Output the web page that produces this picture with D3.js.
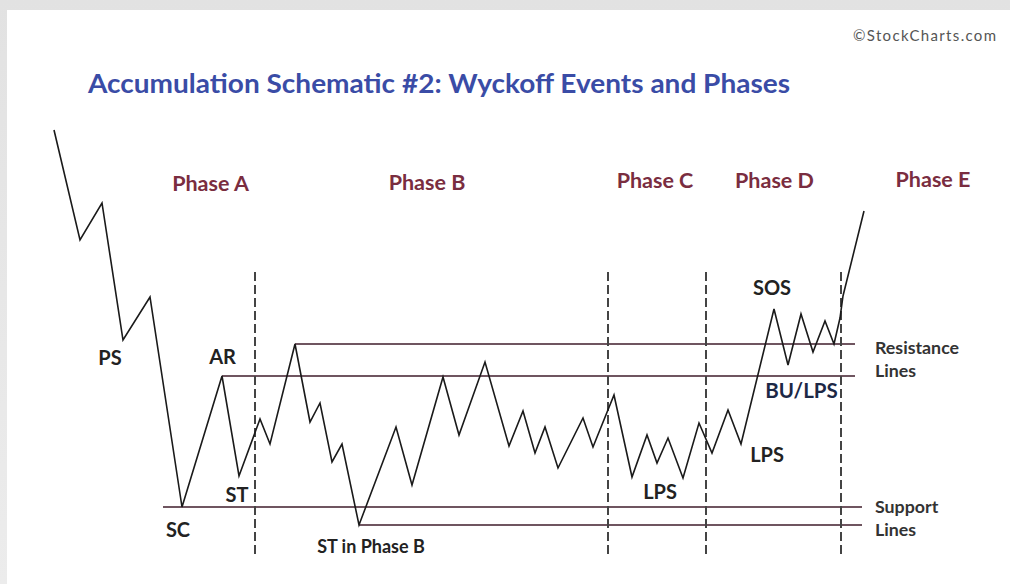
<!DOCTYPE html>
<html>
<head>
<meta charset="utf-8">
<script src="https://cdn.jsdelivr.net/npm/d3@7"></script>
<style>
  body { margin: 0; background: #e8e8e8; }
  svg { display: block; }
</style>
</head>
<body>
<div id="chart"></div>
<script>
// Price path of the schematic: time (bar) and price
var pathTime  = [5.4, 8.0, 10.2, 12.3, 15.0, 18.2, 22.2, 23.9, 26.0, 27.0, 29.5, 31.0, 32.0, 33.2, 34.2, 35.9,
                 39.6, 41.2, 44.3, 45.9, 48.5, 50.9, 52.3, 53.5, 54.5, 55.8, 58.3, 59.3, 61.4, 63.2, 64.7, 65.7,
                 66.8, 68.3, 69.9, 71.2, 72.8, 74.1, 77.4, 78.8, 80.1, 81.3, 82.5, 83.4, 84.0, 84.3, 86.4];
var pathPrice = [86, 64, 71.4, 44, 52.6, 10.6, 36.8, 16.8, 28.2, 23.2, 43.2, 27.6, 31.4, 19.6, 23.2, 7,
                 26.6, 15, 36.6, 25, 39.6, 22.8, 29.8, 21.4, 26.6, 18.4, 28.4, 22.6, 33, 16.6, 25, 19.4,
                 24.4, 16.4, 27.4, 21.4, 30, 23.2, 50.2, 39, 49.2, 41.6, 47.8, 43.2, 48.4, 52.8, 69.8];

// Resistance and support levels
var levelNames = ["resistance high", "resistance low", "support high", "support low"];
var levelPrice = [43.2, 36.8, 10.6, 7];
var levelStart = [29.5, 22.2, 16.3, 35.9];
var levelEnd   = [85.5, 85.5, 86.2, 86.2];

// Phase boundaries (dashed)
var phaseBounds = [25.5, 60.8, 70.6, 84.1];
var phaseNames  = ["Phase A", "Phase B", "Phase C", "Phase D", "Phase E"];
var phaseLabelX = [21.05, 42.7, 65.5, 77.45, 93.3];
var phaseLabelP = [73.8, 74, 74.4, 74.4, 74.6];

// Event labels
var eventNames = ["PS", "AR", "ST", "SC", "ST in Phase B", "LPS", "LPS", "SOS", "BU/LPS"];
var eventX     = [11.0, 22.25, 23.7, 17.8, 37.1, 66.0, 76.7, 77.2, 80.15];
var eventP     = [39, 39.2, 11.6, 4.6, 1.4, 12.2, 19.6, 53, 32.4];

var sideLabels = [["Resistance", "Lines"], ["Support", "Lines"]];
var sideLabelP = [41.2, 9.4];

var width = 1010, height = 584;

var x = d3.scaleLinear().domain([0, 100]).range([0, 1000]);
var y = d3.scaleLinear().domain([0, 100]).range([560, 60]);

var svg = d3.select("#chart").append("svg")
  .attr("width", width)
  .attr("height", height);

// grey frame round the white card
var defs = svg.append("defs");
var grad = defs.append("linearGradient").attr("id", "topfade").attr("x1", 0).attr("y1", 0).attr("x2", 0).attr("y2", 1);
grad.append("stop").attr("offset", "0%").attr("stop-color", "#e2e2e2");
grad.append("stop").attr("offset", "100%").attr("stop-color", "#ececec");
svg.append("rect").attr("width", width).attr("height", height).attr("fill", "url(#topfade)");
svg.append("rect").attr("x", 7).attr("y", 10).attr("width", width - 7).attr("height", height - 10).attr("fill", "#fff");

// title and credit
svg.append("text")
  .attr("x", 88).attr("y", 93)
  .attr("font-family", "Lato, 'Open Sans', sans-serif")
  .attr("font-weight", 700)
  .attr("font-size", 26)
  .attr("fill", "#3a4ca6")
  .attr("textLength", 702)
  .attr("lengthAdjust", "spacingAndGlyphs")
  .text("Accumulation Schematic #2: Wyckoff Events and Phases");

svg.append("text")
  .attr("x", 853).attr("y", 41)
  .attr("font-family", "Lato, 'Open Sans', sans-serif")
  .attr("font-size", 15)
  .attr("fill", "#555")
  .attr("textLength", 143)
  .text("\u00A9StockCharts.com");

// support / resistance lines
svg.append("g").selectAll("line")
  .data(levelNames)
  .enter().append("line")
    .attr("x1", (d, i) => x(levelStart[i]))
    .attr("x2", (d, i) => x(levelEnd[i]))
    .attr("y1", (d, i) => y(levelPrice[i]))
    .attr("y2", (d, i) => y(levelPrice[i]))
    .style("stroke", "#6f5560")
    .style("stroke-width", 1.8);

// phase boundaries
svg.append("g").selectAll("line")
  .data(phaseBounds)
  .enter().append("line")
    .attr("x1", d => x(d)).attr("x2", d => x(d))
    .attr("y1", y(57.6)).attr("y2", y(0.6))
    .style("stroke", "#444")
    .style("stroke-width", 2)
    .style("stroke-dasharray", "9,4");

// price path
var line = d3.line()
  .x((d, i) => x(pathTime[i]))
  .y(d => y(d));

svg.append("path")
  .datum(pathPrice)
  .attr("d", line)
  .style("fill", "none")
  .style("stroke", "#1a1a1a")
  .style("stroke-width", 1.6)
  .style("stroke-linejoin", "miter");

// phase labels
svg.append("g").selectAll("text")
  .data(phaseNames)
  .enter().append("text")
    .attr("x", (d, i) => x(phaseLabelX[i]))
    .attr("y", (d, i) => y(phaseLabelP[i]))
    .attr("text-anchor", "middle")
    .attr("font-family", "Lato, 'Open Sans', sans-serif")
    .attr("font-weight", 700)
    .attr("font-size", 21.5)
    .attr("fill", "#7a2d40")
    .text(d => d);

// event labels
svg.append("g").selectAll("text")
  .data(eventNames)
  .enter().append("text")
    .attr("x", (d, i) => x(eventX[i]))
    .attr("y", (d, i) => y(eventP[i]))
    .attr("text-anchor", "middle")
    .attr("font-family", "Lato, 'Open Sans', sans-serif")
    .attr("font-weight", 700)
    .attr("font-size", d => d == "ST in Phase B" ? 18 : d == "BU/LPS" ? 20.5 : 20)
    .attr("fill", d => d == "BU/LPS" ? "#1c2846" : "#222")
    .text(d => d);

// labels on the right of the levels
sideLabels.forEach(function(pair, i) {
  pair.forEach(function(word, j) {
    svg.append("text")
      .attr("x", 875)
      .attr("y", y(sideLabelP[i]) + j * 22.5)
      .attr("font-family", "Lato, 'Open Sans', sans-serif")
      .attr("font-weight", 700)
      .attr("font-size", 17.8)
      .attr("fill", "#333")
      .text(word);
  });
});
</script>
</body>
</html>
